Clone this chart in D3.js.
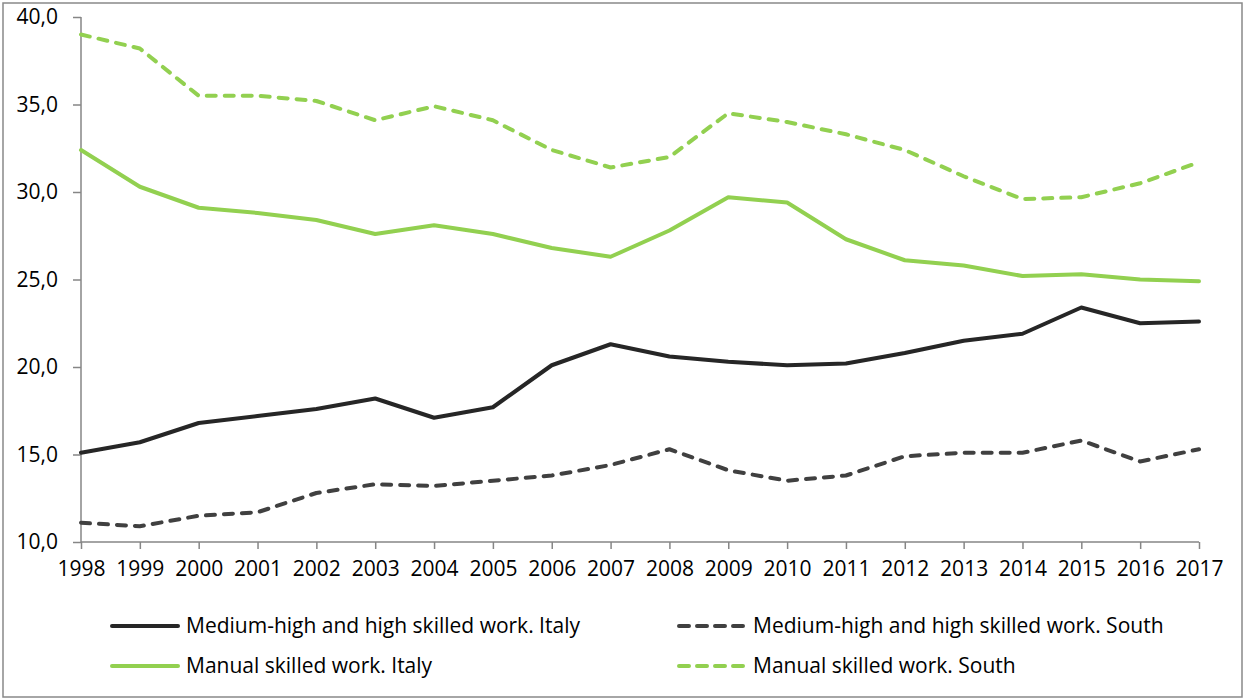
<!DOCTYPE html>
<html>
<head>
<meta charset="utf-8">
<script src="https://cdn.jsdelivr.net/npm/d3@7"></script>
<style>
  body { margin: 0; background: #fff; }
  text { font-family: "Open Sans", sans-serif; fill: #000; }
</style>
</head>
<body>
<div id="chart"></div>
<script>
var svgWidth = 1245;
var svgHeight = 699;

var years = d3.range(1998, 2018);

var highItaly  = [15.1, 15.7, 16.8, 17.2, 17.6, 18.2, 17.1, 17.7, 20.1, 21.3, 20.6, 20.3, 20.1, 20.2, 20.8, 21.5, 21.9, 23.4, 22.5, 22.6];
var highSouth  = [11.1, 10.9, 11.5, 11.7, 12.8, 13.3, 13.2, 13.5, 13.8, 14.4, 15.3, 14.1, 13.5, 13.8, 14.9, 15.1, 15.1, 15.8, 14.6, 15.3];
var manualItaly = [32.4, 30.3, 29.1, 28.8, 28.4, 27.6, 28.1, 27.6, 26.8, 26.3, 27.8, 29.7, 29.4, 27.3, 26.1, 25.8, 25.2, 25.3, 25.0, 24.9];
var manualSouth = [39.0, 38.2, 35.5, 35.5, 35.2, 34.1, 34.9, 34.1, 32.4, 31.4, 32.0, 34.5, 34.0, 33.3, 32.4, 30.9, 29.6, 29.7, 30.5, 31.7];

var yTicks = [10, 15, 20, 25, 30, 35, 40];

var seriesNames = [
  "Medium-high and high skilled work. Italy",
  "Medium-high and high skilled work. South",
  "Manual skilled work. Italy",
  "Manual skilled work. South"
];

var series = [
  { name: seriesNames[0], values: highItaly,   color: "#262626", dash: null },
  { name: seriesNames[1], values: highSouth,   color: "#404040", dash: "9,9" },
  { name: seriesNames[2], values: manualItaly, color: "#92d050", dash: null },
  { name: seriesNames[3], values: manualSouth, color: "#92d050", dash: "9,9" }
];

var svg = d3.select("#chart")
  .append("svg")
  .attr("width", svgWidth)
  .attr("height", svgHeight);

// outer frame
svg.append("rect")
  .attr("x", 3)
  .attr("y", 3)
  .attr("width", 1239)
  .attr("height", 694)
  .attr("fill", "none")
  .attr("stroke", "#898989")
  .attr("stroke-width", 1.5);

var xScale = d3.scaleLinear()
  .domain([1998, 2017])
  .range([81, 1199]);

var yScale = d3.scaleLinear()
  .domain([10, 40])
  .range([542, 17]);

// y axis
var yAxis = svg.append("g")
  .attr("transform", "translate(81,0)")
  .call(d3.axisLeft(yScale)
    .tickValues(yTicks)
    .tickSize(8)
    .tickPadding(15)
    .tickFormat(function(d) { return d3.format(".1f")(d).replace(".", ","); }));

// x axis
var xAxis = svg.append("g")
  .attr("transform", "translate(0,542)")
  .call(d3.axisBottom(xScale)
    .tickValues(years)
    .tickSize(7)
    .tickPadding(12)
    .tickFormat(d3.format("d")));

[yAxis, xAxis].forEach(function(ax) {
  ax.select(".domain").attr("stroke", "#868686").attr("stroke-width", 1.5);
  ax.selectAll(".tick line").attr("stroke", "#868686").attr("stroke-width", 1.5);
  ax.selectAll(".tick text")
    .attr("font-family", "Open Sans, sans-serif")
    .attr("font-size", "21px")
    .attr("fill", "#000");
});
xAxis.select(".domain").attr("d", "M81,0H1199");
yAxis.select(".domain").attr("d", "M0,17V542");

var line = d3.line()
  .x(function(d, i) { return xScale(years[i]); })
  .y(function(d) { return yScale(d); });

svg.selectAll(".series")
  .data(series)
  .enter()
  .append("path")
  .attr("class", "series")
  .attr("d", function(d) { return line(d.values); })
  .attr("fill", "none")
  .attr("stroke", function(d) { return d.color; })
  .attr("stroke-width", 4)
  .attr("stroke-linejoin", "round")
  .attr("stroke-linecap", "round")
  .attr("stroke-dasharray", function(d) { return d.dash; });

// legend
var legendPos = [
  { x: 110, y: 626 },
  { x: 677, y: 626 },
  { x: 110, y: 666 },
  { x: 677, y: 666 }
];

var legend = svg.selectAll(".legend")
  .data(series)
  .enter()
  .append("g")
  .attr("class", "legend")
  .attr("transform", function(d, i) { return `translate(${legendPos[i].x},${legendPos[i].y})`; });

legend.append("line")
  .attr("x1", 2)
  .attr("x2", 68)
  .attr("y1", 0)
  .attr("y2", 0)
  .attr("stroke", function(d) { return d.color; })
  .attr("stroke-width", 4)
  .attr("stroke-linecap", "round")
  .attr("stroke-dasharray", function(d) { return d.dash ? "10,8" : null; });

legend.append("text")
  .attr("x", 76)
  .attr("y", 0)
  .attr("dy", "0.35em")
  .attr("font-size", "21px")
  .text(function(d) { return d.name; });
</script>
</body>
</html>
